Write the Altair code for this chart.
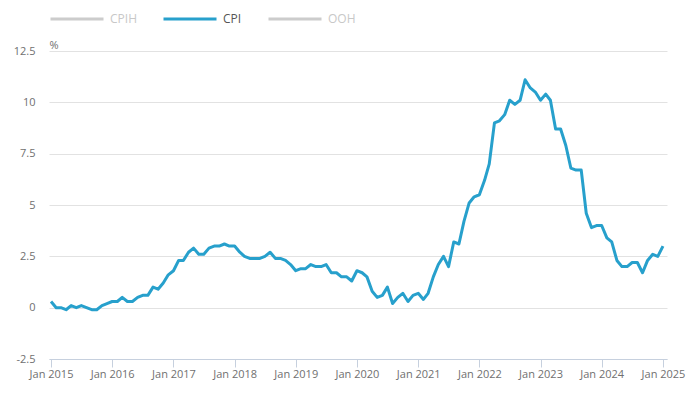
import altair as alt
import pandas as pd

series_names = ["CPIH", "CPI", "OOH"]
series_colors = ["#cccccc", "#27a0cc", "#cccccc"]

start_month = "2015-01-01"
cpi = [
    0.3, 0.0, 0.0, -0.1, 0.1, 0.0, 0.1, 0.0, -0.1, -0.1, 0.1, 0.2,
    0.3, 0.3, 0.5, 0.3, 0.3, 0.5, 0.6, 0.6, 1.0, 0.9, 1.2, 1.6,
    1.8, 2.3, 2.3, 2.7, 2.9, 2.6, 2.6, 2.9, 3.0, 3.0, 3.1, 3.0,
    3.0, 2.7, 2.5, 2.4, 2.4, 2.4, 2.5, 2.7, 2.4, 2.4, 2.3, 2.1,
    1.8, 1.9, 1.9, 2.1, 2.0, 2.0, 2.1, 1.7, 1.7, 1.5, 1.5, 1.3,
    1.8, 1.7, 1.5, 0.8, 0.5, 0.6, 1.0, 0.2, 0.5, 0.7, 0.3, 0.6,
    0.7, 0.4, 0.7, 1.5, 2.1, 2.5, 2.0, 3.2, 3.1, 4.2, 5.1, 5.4,
    5.5, 6.2, 7.0, 9.0, 9.1, 9.4, 10.1, 9.9, 10.1, 11.1, 10.7, 10.5,
    10.1, 10.4, 10.1, 8.7, 8.7, 7.9, 6.8, 6.7, 6.7, 4.6, 3.9, 4.0,
    4.0, 3.4, 3.2, 2.3, 2.0, 2.0, 2.2, 2.2, 1.7, 2.3, 2.6, 2.5,
    3.0,
]
y_ticks = [-2.5, 0, 2.5, 5, 7.5, 10, 12.5]

dates = pd.date_range(start_month, periods=len(cpi), freq="MS")
df = pd.DataFrame({"date": dates, "value": cpi, "series": "CPI"})

font = "Open Sans"
axis_text = "#707070"

chart = alt.Chart(df).mark_line(strokeWidth=3, strokeJoin="round").encode(
    x=alt.X(
        "date:T",
        scale=alt.Scale(domain=["2014-12-20", "2025-01-25"]),
        axis=alt.Axis(
            title=None,
            format="%b %Y",
            tickCount={"interval": "year", "step": 1},
            grid=False,
            domainColor="#c6d0de",
            tickColor="#c6d0de",
            tickSize=8,
            labelPadding=1,
            labelFont=font,
            labelFontSize=11,
            labelColor=axis_text,
            labelFlush=False,
        ),
    ),
    y=alt.Y(
        "value:Q",
        scale=alt.Scale(domain=[-2.5, 12.5], nice=False),
        axis=alt.Axis(
            title="%",
            titleAngle=0,
            titleX=0,
            titleY=-1,
            titleAlign="left",
            titleBaseline="bottom",
            titleFont=font,
            titleFontSize=11,
            titleFontWeight="normal",
            titleColor=axis_text,
            values=y_ticks,
            labelExpr="'' + datum.value",
            domain=False,
            ticks=False,
            labelPadding=14,
            labelFont=font,
            labelFontSize=11,
            labelColor=axis_text,
            gridColor="#e2e2e2",
        ),
    ),
    color=alt.Color(
        "series:N",
        scale=alt.Scale(domain=series_names, range=series_colors),
        legend=alt.Legend(
            title=None,
            orient="none",
            legendX=0,
            legendY=-60,
            direction="horizontal",
            symbolType="stroke",
            symbolSize=2809,
            symbolStrokeWidth=3,
            labelFont=font,
            labelFontSize=12,
            labelColor={"expr": "datum.value == 'CPI' ? '#555555' : '#c8c8c8'"},
            labelOffset=5,
            columnPadding=20,
        ),
    ),
).properties(
    width=618,
    height=308,
    padding={"left": 41, "top": 43, "right": 19, "bottom": 31},
    autosize=alt.AutoSizeParams(type="none"),
).configure_view(stroke=None)

chart.save("out.html", embed_options={"renderer": "svg", "actions": False})
